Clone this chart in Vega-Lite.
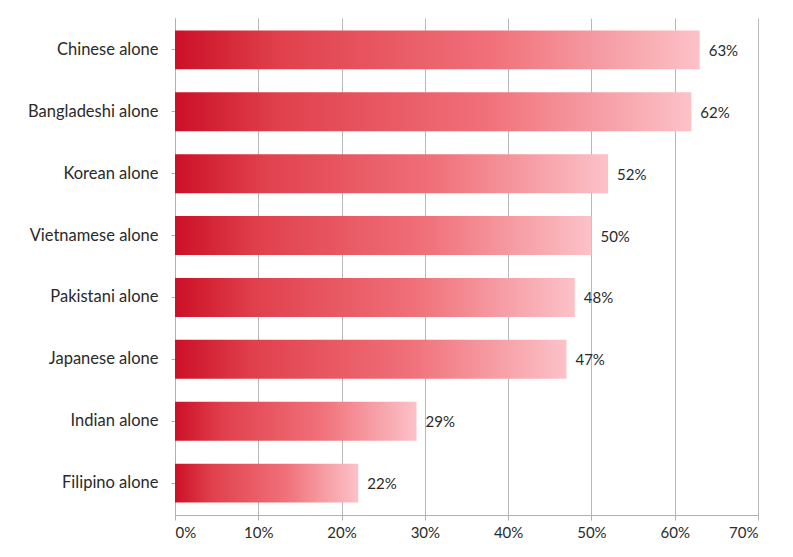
{
  "$schema": "https://vega.github.io/schema/vega-lite/v6.json",
  "autosize": {"type": "none"},
  "width": 583,
  "height": 497,
  "padding": {"left": 175, "top": 18, "right": 35, "bottom": 42},
  "background": "white",
  "config": {
    "view": {"stroke": null},
    "font": "Lato"
  },
  "data": {
    "values": [
      {"group": "Chinese alone", "pct": 0.63},
      {"group": "Bangladeshi alone", "pct": 0.62},
      {"group": "Korean alone", "pct": 0.52},
      {"group": "Vietnamese alone", "pct": 0.50},
      {"group": "Pakistani alone", "pct": 0.48},
      {"group": "Japanese alone", "pct": 0.47},
      {"group": "Indian alone", "pct": 0.29},
      {"group": "Filipino alone", "pct": 0.22}
    ]
  },
  "encoding": {
    "y": {
      "field": "group",
      "type": "nominal",
      "sort": null,
      "scale": {"paddingInner": 0.37, "paddingOuter": 0.2},
      "axis": {
        "title": null,
        "domain": true,
        "domainColor": "#b0b0b0",
        "ticks": true,
        "tickColor": "#b0b0b0",
        "tickSize": 4,
        "labelFontSize": 16.5,
        "labelColor": "#2a2a2a",
        "labelPadding": 13,
        "labelFont": "Lato"
      }
    },
    "x": {
      "field": "pct",
      "type": "quantitative",
      "scale": {"domain": [0, 0.7], "nice": false},
      "axis": {
        "title": null,
        "values": [0, 0.1, 0.2, 0.3, 0.4, 0.5, 0.6, 0.7],
        "format": ".0%",
        "grid": true,
        "gridColor": "#b8b8b8",
        "gridWidth": 1,
        "domainColor": "#b0b0b0",
        "tickColor": "#b0b0b0",
        "tickSize": 5,
        "labelFontSize": 15,
        "labelColor": "#2a2a2a",
        "labelPadding": 5,
        "labelFont": "Lato"
      }
    }
  },
  "layer": [
    {
      "mark": {
        "type": "bar",
        "color": {
          "gradient": "linear",
          "x1": 0, "y1": 0, "x2": 1, "y2": 0,
          "stops": [
            {"offset": 0, "color": "#cc1027"},
            {"offset": 0.2, "color": "#e0404c"},
            {"offset": 0.6, "color": "#f07079"},
            {"offset": 1, "color": "#fcc2c8"}
          ]
        }
      }
    },
    {
      "mark": {
        "type": "text",
        "align": "left",
        "dx": 9,
        "dy": 1,
        "fontSize": 15,
        "color": "#2a2a2a",
        "font": "Lato"
      },
      "encoding": {
        "text": {"field": "pct", "type": "quantitative", "format": ".0%"}
      }
    }
  ]
}
